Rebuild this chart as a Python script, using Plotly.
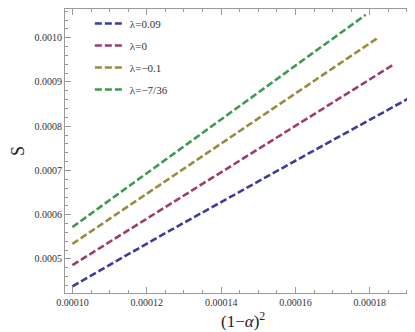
import plotly.graph_objects as go

# data
labels = ["λ=0.09", "λ=0", "λ=−0.1", "λ=−7/36"]
x_blue = [0.000100, 0.000123, 0.000163, 0.000192]
y_blue = [0.000438, 0.000549, 0.000736, 0.000870]
x_mag = [0.000100, 0.000143, 0.0001865]
y_mag = [0.000486, 0.000712, 0.000940]
x_oli = [0.000100, 0.000141, 0.0001822]
y_oli = [0.000534, 0.000767, 0.001000]
x_grn = [0.000100, 0.000123, 0.0001789]
y_grn = [0.000572, 0.000712, 0.001052]

colors = ["#3d3d99", "#993d71", "#998b3d", "#3d9954"]
series = [(x_blue, y_blue), (x_mag, y_mag), (x_oli, y_oli), (x_grn, y_grn)]

SERIF = "Liberation Serif, Times New Roman, serif"

fig = go.Figure()
for i, (xs, ys) in enumerate(series):
    fig.add_trace(go.Scatter(
        x=xs, y=ys, mode="lines", name=labels[i], legendgroup=str(i),
        line=dict(color=colors[i], width=2.6, dash="7px,3px"),
    ))

axis_common = dict(
    showgrid=False, zeroline=False, showline=True, linecolor="#9a9a9a",
    linewidth=1, mirror="ticks", ticks="inside", ticklen=6, tickcolor="#9a9a9a",
    tickfont=dict(family=SERIF, size=10, color="#333"),
)

fig.update_layout(
    width=415, height=332,
    margin=dict(l=57, r=3, t=1, b=47),
    paper_bgcolor="white", plot_bgcolor="white",
    font=dict(family=SERIF, color="#222"),
    xaxis=dict(range=[0.000098, 0.0001935], dtick=0.00002, tick0=0.0001,
               tickformat=".5f",
               minor=dict(dtick=0.000005, ticks="inside", ticklen=3, tickcolor="#9a9a9a"),
               **axis_common),
    yaxis=dict(range=[0.000423, 0.001065], dtick=0.0001, tick0=0.0005,
               tickformat=".4f",
               minor=dict(dtick=0.00002, ticks="inside", ticklen=3, tickcolor="#9a9a9a"),
               title=dict(text="S", font=dict(family=SERIF, size=18), standoff=8),
               **axis_common),
    legend=dict(x=0.07, y=1.0, xanchor="left", yanchor="top",
                bgcolor="rgba(0,0,0,0)", tracegroupgap=3,
                font=dict(family=SERIF, size=11, color="#333"),
                itemwidth=30),
    showlegend=True,
)

# x title placed like the original (closer to the tick labels)
fig.add_annotation(text="(1−<i>α</i>)<sup>2</sup>", xref="paper", yref="paper",
                   x=0.5, y=-0.095, yanchor="middle", showarrow=False,
                   font=dict(family=SERIF, size=17, color="#222"))

fig.write_html("out.html")
